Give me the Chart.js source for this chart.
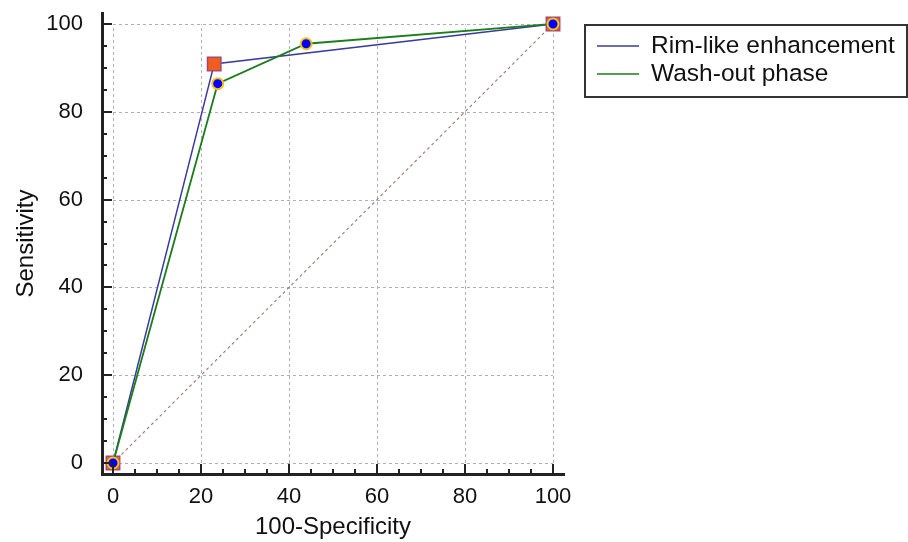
<!DOCTYPE html>
<html>
<head>
<meta charset="utf-8">
<script src="https://cdn.jsdelivr.net/npm/chart.js@4"></script>
<style>
  html, body { margin: 0; padding: 0; background: #fff; }
  #roc { display: block; }
</style>
</head>
<body>
<canvas id="roc" width="908" height="542"></canvas>
<script>
// valeurs
const rimX = [0, 23.0, 100];
const rimY = [0, 90.9, 100];
const washX = [0, 23.8, 43.9, 100];
const washY = [0, 86.4, 95.5, 100];
const refX = [0, 100];
const refY = [0, 100];
const seriesNames = ['Rim-like enhancement', 'Wash-out phase'];
const majorTicks = [0, 20, 40, 60, 80, 100];
const minorStep = 5;

const rimColor = '#3b3b9c';
const washColor = '#1c7d1c';

function toPoints(xs, ys) {
    let pts = [];
    for (let i = 0; i < xs.length; i++) {
        pts.push({ x: xs[i], y: ys[i] });
    }
    return pts;
}

// grille pointillée, graduations vers l'intérieur et légende encadrée
const rocDecor = {
    id: 'rocDecor',
    beforeDatasetsDraw(chart) {
        const ctx = chart.ctx;
        const xs = chart.scales.x, ys = chart.scales.y;
        const x0 = xs.getPixelForValue(0), x1 = xs.getPixelForValue(100);
        const y0 = ys.getPixelForValue(0), y1 = ys.getPixelForValue(100);
        ctx.save();
        ctx.strokeStyle = '#b0b0b0';
        ctx.lineWidth = 1;
        ctx.setLineDash([3, 3]);
        majorTicks.forEach(v => {
            const px = Math.round(xs.getPixelForValue(v)) + 0.5;
            ctx.beginPath(); ctx.moveTo(px, y0); ctx.lineTo(px, y1); ctx.stroke();
            const py = Math.round(ys.getPixelForValue(v)) + 0.5;
            ctx.beginPath(); ctx.moveTo(x0, py); ctx.lineTo(x1, py); ctx.stroke();
        });
        ctx.restore();
    },
    afterDraw(chart) {
        const ctx = chart.ctx;
        const area = chart.chartArea;
        const xs = chart.scales.x, ys = chart.scales.y;
        ctx.save();
        ctx.strokeStyle = '#222';
        ctx.lineWidth = 2;
        for (let v = 0; v <= 100; v += minorStep) {
            const len = majorTicks.includes(v) ? 10 : 5;
            const px = Math.round(xs.getPixelForValue(v));
            ctx.beginPath(); ctx.moveTo(px, area.bottom); ctx.lineTo(px, area.bottom - len); ctx.stroke();
            const py = Math.round(ys.getPixelForValue(v));
            ctx.beginPath(); ctx.moveTo(area.left, py); ctx.lineTo(area.left + len, py); ctx.stroke();
        }

        // légende
        const bx = area.right + 21, by = 25;
        const bw = chart.width - bx - 1, bh = 72;
        ctx.lineWidth = 2;
        ctx.strokeStyle = '#333';
        ctx.strokeRect(bx, by, bw, bh);
        ctx.font = '24.5px "Liberation Sans", Arial, sans-serif';
        ctx.textBaseline = 'middle';
        ctx.fillStyle = '#111';
        const sets = chart.data.datasets;
        for (let i = 0; i < seriesNames.length; i++) {
            const ly = by + 21 + i * 28;
            ctx.strokeStyle = sets[i].borderColor;
            ctx.lineWidth = 1.5;
            ctx.beginPath(); ctx.moveTo(bx + 12, ly); ctx.lineTo(bx + 54, ly); ctx.stroke();
            ctx.fillText(sets[i].label, bx + 66, ly);
        }
        ctx.restore();
    }
};

Chart.defaults.font.family = '"Liberation Sans", Arial, sans-serif';
Chart.defaults.font.size = 22;
Chart.defaults.color = '#111';

const data = {
    datasets: [
        {
            label: seriesNames[0],
            data: toPoints(rimX, rimY),
            borderColor: rimColor,
            borderWidth: 1.5,
            pointStyle: 'rect',
            pointRadius: 9.5,
            pointBackgroundColor: '#f25c1f',
            pointBorderColor: '#a04a78',
            pointBorderWidth: 1.5,
            order: 1
        },
        {
            label: seriesNames[1],
            data: toPoints(washX, washY),
            borderColor: washColor,
            borderWidth: 1.8,
            pointStyle: 'circle',
            pointRadius: 5.5,
            pointBackgroundColor: '#0000ff',
            pointBorderColor: '#f5c21a',
            pointBorderWidth: 2,
            order: 0
        },
        {
            label: 'ref',
            data: toPoints(refX, refY),
            borderColor: '#8f7c7c',
            borderWidth: 1.1,
            borderDash: [3, 3],
            pointRadius: 0,
            order: 2
        }
    ]
};

const config = {
    type: 'line',
    data: data,
    options: {
        responsive: false,
        animation: false,
        layout: { padding: { top: 13, right: 344, left: 0, bottom: 0 } },
        plugins: {
            legend: { display: false },
            tooltip: { enabled: false }
        },
        scales: {
            x: {
                type: 'linear',
                min: -2.5,
                max: 102.5,
                afterBuildTicks: (scale) => { scale.ticks = majorTicks.map(v => ({ value: v })); },
                afterFit: (scale) => { scale.height = 68; scale.paddingLeft = 0; scale.paddingRight = 0; },
                grid: { display: false, drawTicks: false },
                border: { display: true, color: '#222', width: 3 },
                ticks: { padding: 10, color: '#111' },
                title: { display: true, text: '100-Specificity', color: '#111', font: { size: 24 }, padding: { top: 0, bottom: 0 } }
            },
            y: {
                type: 'linear',
                min: -2.5,
                max: 102.5,
                afterBuildTicks: (scale) => { scale.ticks = majorTicks.map(v => ({ value: v })); },
                afterFit: (scale) => { scale.width = 102; scale.paddingTop = 0; scale.paddingBottom = 0; },
                grid: { display: false, drawTicks: false },
                border: { display: true, color: '#222', width: 3 },
                ticks: { padding: 19, color: '#111' },
                title: { display: true, text: 'Sensitivity', color: '#111', font: { size: 24 }, padding: { top: 12, bottom: 0 } }
            }
        }
    },
    plugins: [rocDecor]
};

const grafico = document.getElementById('roc');
new Chart(grafico, config);
</script>
</body>
</html>
